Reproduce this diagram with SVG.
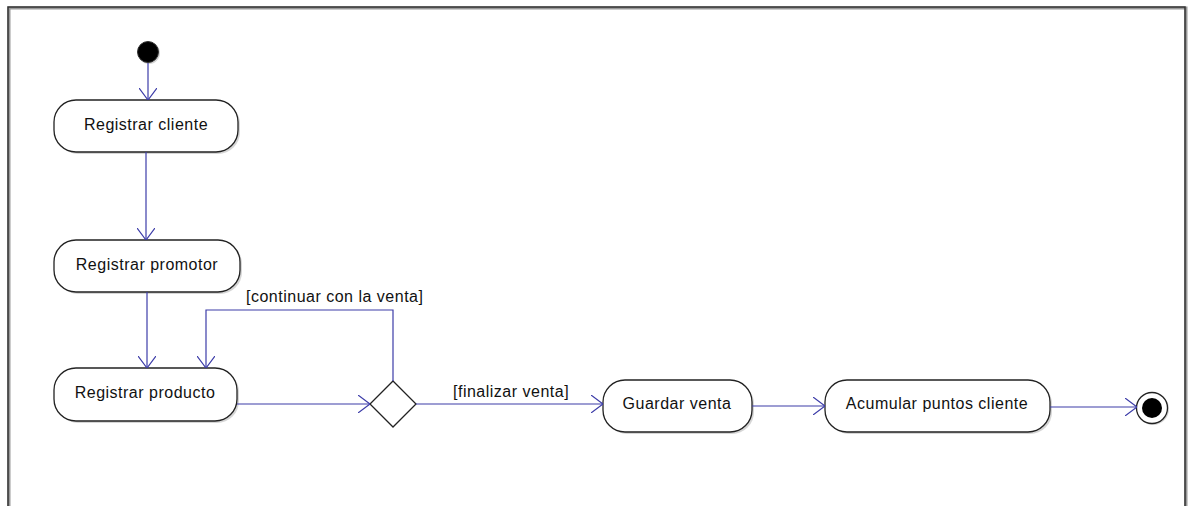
<svg xmlns="http://www.w3.org/2000/svg" width="1188" height="506" viewBox="0 0 1188 506">
<defs>
<style>
.node{fill:#fff;stroke:#222;stroke-width:1.3}
.shadow{fill:#bbb;opacity:0.6}
.lbl{font-family:"Liberation Sans",Arial,sans-serif;font-size:16px;letter-spacing:0.5px;fill:#111;text-anchor:middle}
.glbl{font-family:"Liberation Sans",Arial,sans-serif;font-size:16px;letter-spacing:0.5px;fill:#111}
.edge{fill:none;stroke:#3c3ca8;stroke-width:1.2}
</style>
<marker id="arr" viewBox="0 0 12 18" refX="12" refY="9" markerWidth="12" markerHeight="18" markerUnits="userSpaceOnUse" orient="auto">
<path d="M0,0 L12,9 L0,18" fill="none" stroke="#3c3ca8" stroke-width="1.2"/>
</marker>
</defs>
<rect width="1188" height="506" fill="#fff"/>
<path d="M8,510 V7 H1185 V510" fill="none" stroke="#999" stroke-width="3" transform="translate(1,1)"/>
<path d="M8,510 V7 H1185 V510" fill="none" stroke="#333" stroke-width="1.5"/>

<g id="initial">
<circle cx="149" cy="53" r="11" fill="#aaa" opacity="0.5"/>
<circle cx="148" cy="52" r="10.5" fill="#000" stroke="#333" stroke-width="1"/>
</g>

<g id="registrar-cliente">
<rect class="shadow" x="56" y="102" width="184" height="52" rx="22"/>
<rect class="node" x="54" y="100" width="184" height="52" rx="22"/>
<text class="lbl" x="146" y="130">Registrar cliente</text>
</g>

<g id="registrar-promotor">
<rect class="shadow" x="56" y="242" width="186" height="52" rx="22"/>
<rect class="node" x="54" y="240" width="186" height="52" rx="22"/>
<text class="lbl" x="147" y="270">Registrar promotor</text>
</g>

<g id="registrar-producto">
<rect class="shadow" x="56" y="370" width="183" height="53" rx="22"/>
<rect class="node" x="54" y="368" width="183" height="53" rx="22"/>
<text class="lbl" x="145" y="398">Registrar producto</text>
</g>

<g id="decision">
<polygon class="node" points="393,381 416,404 393,427 370,404"/>
</g>

<g id="guardar-venta">
<rect class="shadow" x="605" y="382" width="149" height="52" rx="22"/>
<rect class="node" x="603" y="380" width="149" height="52" rx="22"/>
<text class="lbl" x="677" y="409">Guardar venta</text>
</g>

<g id="acumular-puntos">
<rect class="shadow" x="827" y="382" width="225" height="52" rx="22"/>
<rect class="node" x="825" y="380" width="225" height="52" rx="22"/>
<text class="lbl" x="937" y="409">Acumular puntos cliente</text>
</g>

<g id="final">
<circle cx="1153" cy="409" r="16" fill="#aaa" opacity="0.5"/>
<circle cx="1152" cy="408" r="15.5" fill="#fff" stroke="#222" stroke-width="1.3"/>
<circle cx="1152" cy="408" r="10" fill="#000"/>
</g>

<g id="connectors">
<path class="edge" d="M148,63 V100" marker-end="url(#arr)"/>
<path class="edge" d="M146,152 V240" marker-end="url(#arr)"/>
<path class="edge" d="M147,292 V368" marker-end="url(#arr)"/>
<path class="edge" d="M393,381 V310 H206 V368" marker-end="url(#arr)"/>
<path class="edge" d="M237,404 H370" marker-end="url(#arr)"/>
<path class="edge" d="M416,404 H603" marker-end="url(#arr)"/>
<path class="edge" d="M752,406 H825" marker-end="url(#arr)"/>
<path class="edge" d="M1050,407 H1137" marker-end="url(#arr)"/>
<text class="glbl" x="246" y="302">[continuar con la venta]</text>
<text class="glbl" x="453" y="397">[finalizar venta]</text>
</g>
</svg>
